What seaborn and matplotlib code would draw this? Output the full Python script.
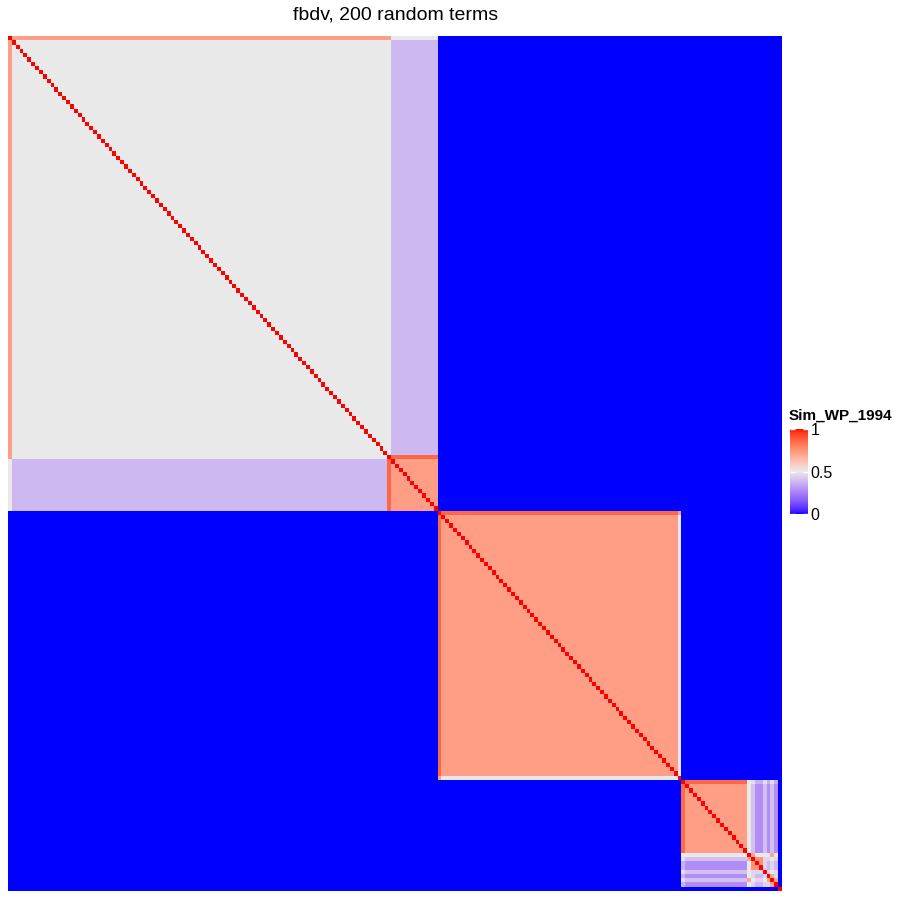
import numpy as np
import seaborn as sns
import matplotlib.pyplot as plt
from matplotlib.colors import ListedColormap

# ---- data ----
n_terms = 200
title = "fbdv, 200 random terms"
legend_title = "Sim_WP_1994"

# groups along the diagonal: hub term, first / last member, similarity levels
group_hubs = [0, 98, 111, 174]
group_first = [1, 99, 112, 175]
group_last = [98, 110, 172, 190]
within_sim = [0.5, 0.72, 0.72, 0.72]
hub_sim = [0.72, 0.86, 0.86, 0.86]

# cross-group levels
a_vs_b = 0.38          # members of first group vs second group
root_vs_b = 0.5        # term 0 vs second group
edge_c_term = 173      # term at the edge of the third group
edge_c_vs_members = 0.5
edge_c_vs_hub = 0.72

# tail of the fourth group (terms 191..198)
tail_terms = [191, 192, 193, 194, 195, 196, 197, 198]
tail_vs_d = [0.5, 0.40, 0.28, 0.28, 0.40, 0.28, 0.40, 0.28]
tail_vs_d_hub = [0.5, 0.47, 0.36, 0.36, 0.47, 0.36, 0.47, 0.36]
tail_block = [
    [1.00, 0.70, 0.50, 0.50, 0.50, 0.50, 0.70, 0.50],
    [0.70, 1.00, 0.75, 0.75, 0.45, 0.45, 0.50, 0.45],
    [0.50, 0.75, 1.00, 0.75, 0.45, 0.38, 0.45, 0.38],
    [0.50, 0.75, 0.75, 1.00, 0.45, 0.38, 0.45, 0.38],
    [0.50, 0.45, 0.45, 0.45, 1.00, 0.45, 0.50, 0.45],
    [0.50, 0.45, 0.38, 0.38, 0.45, 1.00, 0.70, 0.45],
    [0.70, 0.50, 0.45, 0.45, 0.50, 0.70, 1.00, 0.70],
    [0.50, 0.45, 0.38, 0.38, 0.45, 0.45, 0.70, 1.00],
]

# ---- build the similarity matrix ----
sim = np.zeros((n_terms, n_terms))
for hub, lo, hi, w, h in zip(group_hubs, group_first, group_last, within_sim, hub_sim):
    sim[lo:hi + 1, lo:hi + 1] = w
    sim[hub, lo:hi + 1] = h
    sim[lo:hi + 1, hub] = h

sim[1:98, 99:111] = a_vs_b
sim[99:111, 1:98] = a_vs_b
sim[0, 99:111] = root_vs_b
sim[99:111, 0] = root_vs_b

sim[edge_c_term, 112:173] = edge_c_vs_members
sim[112:173, edge_c_term] = edge_c_vs_members
sim[edge_c_term, 111] = edge_c_vs_hub
sim[111, edge_c_term] = edge_c_vs_hub

for k, t in enumerate(tail_terms):
    sim[t, 175:191] = tail_vs_d[k]
    sim[175:191, t] = tail_vs_d[k]
    sim[t, 174] = tail_vs_d_hub[k]
    sim[174, t] = tail_vs_d_hub[k]
idx = np.array(tail_terms)
sim[np.ix_(idx, idx)] = np.array(tail_block)
np.fill_diagonal(sim, 1.0)


# ---- diverging palette interpolated in Lab, like ggplot's gradient2 ----
def to_lab(hexcol):
    rgb = np.array([int(hexcol[i:i + 2], 16) for i in (1, 3, 5)]) / 255
    lin = np.where(rgb <= 0.04045, rgb / 12.92, ((rgb + 0.055) / 1.055) ** 2.4)
    m = np.array([[0.4124, 0.3576, 0.1805], [0.2126, 0.7152, 0.0722], [0.0193, 0.1192, 0.9505]])
    xyz = m @ lin / np.array([0.95047, 1.0, 1.08883])
    f = np.where(xyz > 0.008856, np.cbrt(xyz), 7.787 * xyz + 16 / 116)
    return np.array([116 * f[1] - 16, 500 * (f[0] - f[1]), 200 * (f[1] - f[2])])


def from_lab(lab):
    fy = (lab[0] + 16) / 116
    f = np.array([fy + lab[1] / 500, fy, fy - lab[2] / 200])
    xyz = np.where(f ** 3 > 0.008856, f ** 3, (f - 16 / 116) / 7.787) * np.array([0.95047, 1.0, 1.08883])
    m = np.array([[3.2406, -1.5372, -0.4986], [-0.9689, 1.8758, 0.0415], [0.0557, -0.2040, 1.0570]])
    lin = np.clip(m @ xyz, 0, 1)
    return np.where(lin <= 0.0031308, 12.92 * lin, 1.055 * lin ** (1 / 2.4) - 0.055).clip(0, 1)


low, mid, high = to_lab("#0000FF"), to_lab("#EAEAEA"), to_lab("#FF0000")
cols = []
for v in np.linspace(0, 1, 256):
    if v < 0.5:
        cols.append(from_lab(low + (mid - low) * v / 0.5))
    else:
        cols.append(from_lab(mid + (high - mid) * (v - 0.5) / 0.5))
cmap = ListedColormap(cols)

# ---- draw ----
plt.rcParams['font.family'] = ['Liberation Sans', 'DejaVu Sans']
fig = plt.figure(figsize=(9, 9), dpi=100)
ax = fig.add_axes([8 / 900, 9 / 900, 774 / 900, 855 / 900])
cax = fig.add_axes([790 / 900, 1 - 514 / 900, 18 / 900, 85 / 900])

sns.heatmap(sim, cmap=cmap, vmin=0, vmax=1, ax=ax, cbar_ax=cax,
            xticklabels=False, yticklabels=False,
            cbar_kws={"ticks": [0, 0.5, 1]})
ax.set_xlabel("")
ax.set_ylabel("")

cbar = ax.collections[0].colorbar
cbar.outline.set_visible(False)
cbar.ax.set_yticklabels(["0", "0.5", "1"])
cbar.ax.yaxis.set_ticks_position("both")
cbar.ax.tick_params(which="both", direction="in", color="white", length=3.5, width=1,
                    labelsize=11.5, labelright=True, labelleft=False, pad=2)
cbar.ax.set_title(legend_title, fontsize=11, fontweight="bold", loc="left", pad=7, x=-0.08)

fig.text(396 / 900, 1 - 15 / 900, title, ha="center", va="center", fontsize=14)

fig.savefig("out.png", dpi=100)
